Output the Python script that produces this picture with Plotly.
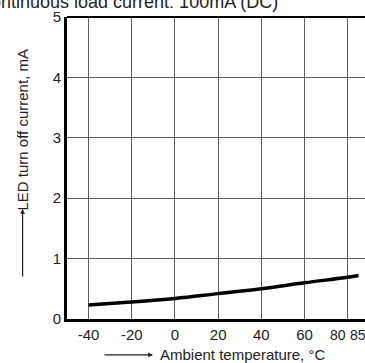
import plotly.graph_objects as go

temp = [-40, -20, 0, 20, 40, 60, 80, 85]
current = [0.23, 0.28, 0.34, 0.42, 0.50, 0.60, 0.69, 0.72]

x_ticks = [-40, -20, 0, 20, 40, 60, 80]
x_ticktext = ["-40", "-20", "0", "20", "40", "60", ""]
y_ticks = [0, 1, 2, 3, 4, 5]

title_text = "Continuous load current: 100mA (DC)"
x_title = "Ambient temperature, °C"
y_title = "LED turn off current, mA"

FONT = "Liberation Sans, Arial, sans-serif"

fig = go.Figure()
fig.add_trace(go.Scatter(x=temp, y=current, mode="lines",
                         line=dict(color="black", width=3.5, shape="spline"),
                         showlegend=False, hoverinfo="skip"))

fig.update_layout(
    width=365, height=363,
    margin=dict(l=67, r=0, t=17, b=44),
    paper_bgcolor="white", plot_bgcolor="white",
    font=dict(family=FONT, size=15, color="#222"),
    xaxis=dict(range=[-50, 88], tickvals=x_ticks, ticktext=x_ticktext,
               showgrid=True, gridcolor="#5e5e5e", gridwidth=1.4,
               showline=True, linecolor="black", linewidth=3,
               ticks="", zeroline=False, tickfont=dict(size=15, color="#222")),
    yaxis=dict(range=[0, 5], tickvals=y_ticks,
               showgrid=True, gridcolor="#5e5e5e", gridwidth=1.4,
               showline=True, linecolor="black", linewidth=3,
               ticks="", zeroline=False,
               tickfont=dict(size=15, color="#222")),
)

# top border
fig.add_shape(type="line", xref="paper", yref="paper", x0=0, x1=1, y0=1, y1=1,
              line=dict(color="black", width=2))

annots = [
    dict(text="80", x=80, xref="x", xanchor="right", y=-0.02, yref="paper",
         yanchor="top", showarrow=False, font=dict(size=14, color="#222")),
    dict(text="85", x=80.3, xref="x", xanchor="left", y=-0.02, yref="paper",
         yanchor="top", showarrow=False, font=dict(size=14, color="#222")),
    dict(text=title_text, x=0.715, xref="paper", xanchor="right",
         y=1.051, yref="paper", yanchor="middle", showarrow=False,
         font=dict(size=18, color="#222")),
    dict(text=x_title, x=0.589, xref="paper", xanchor="center",
         y=-0.119, yref="paper", yanchor="middle", showarrow=False,
         font=dict(size=15, color="#222")),
    dict(text=y_title, x=-0.149, xref="paper", xanchor="center",
         y=0.626, yref="paper", yanchor="middle", textangle=-90, showarrow=False,
         font=dict(size=15, color="#222")),
    # x arrow
    dict(text="", x=0.2886, xref="paper", y=-0.119, yref="paper",
         showarrow=True, ax=-50, ay=0, arrowhead=2, arrowsize=0.8,
         arrowwidth=1.2, arrowcolor="#222"),
    # y arrow
    dict(text="", x=-0.149, xref="paper", y=0.364, yref="paper",
         showarrow=True, ax=0, ay=69, arrowhead=2, arrowsize=0.8,
         arrowwidth=1.2, arrowcolor="#222"),
]
fig.update_layout(annotations=annots)

fig.write_html("out.html", config={"displayModeBar": False},
               post_script="document.body.style.margin='0';document.body.style.overflow='hidden';")
